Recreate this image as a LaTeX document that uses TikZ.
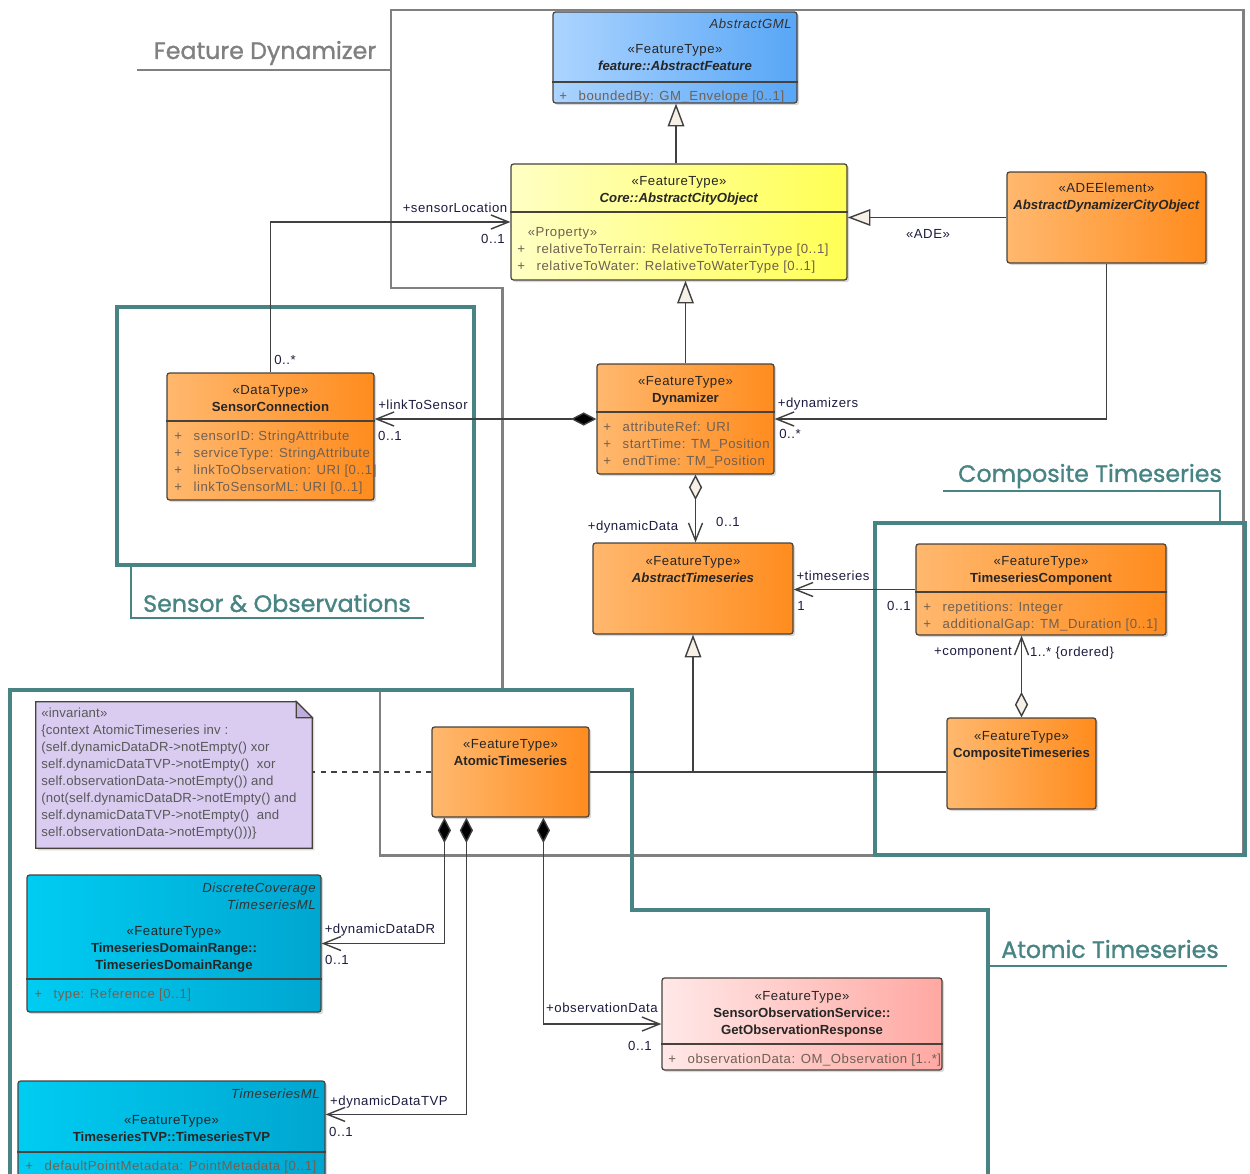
\documentclass[tikz,border=0pt]{standalone}
\usepackage{fontspec}
\setmainfont{Liberation Sans}[LetterSpace=4, BoldFeatures={LetterSpace=0}, BoldItalicFeatures={LetterSpace=0}]
\newfontfamily\notefont{Liberation Sans}[LetterSpace=1.2]
\newfontfamily\regionfont{Poppins}[FakeBold=1.2]
\usetikzlibrary{arrows.meta,shadows,fit,calc,positioning}

\definecolor{orL}{RGB}{255,184,110}
\definecolor{orR}{RGB}{255,140,30}
\definecolor{blL}{RGB}{172,212,255}
\definecolor{blR}{RGB}{88,166,246}
\definecolor{yeL}{RGB}{255,255,196}
\definecolor{yeR}{RGB}{255,255,84}
\definecolor{cyL}{RGB}{0,204,242}
\definecolor{cyR}{RGB}{0,166,208}
\definecolor{pkL}{RGB}{255,232,232}
\definecolor{pkR}{RGB}{255,168,162}
\definecolor{notefill}{RGB}{217,204,240}
\definecolor{notefold}{RGB}{190,172,222}
\definecolor{clsline}{RGB}{72,66,60}
\definecolor{attrtext}{RGB}{112,96,82}
\definecolor{rolenavy}{RGB}{28,28,64}
\definecolor{areagray}{RGB}{128,128,128}
\definecolor{areateal}{RGB}{72,132,132}
\definecolor{tipfill}{RGB}{246,240,230}

\newcommand\umlfont{\fontsize{7.5}{9.65}\selectfont}
\newcommand\plusmark{\makebox[11pt][l]{+}}

\tikzset{
  umlclass/.style={draw=clsline, line width=0.7pt, rounded corners=1.5pt, inner sep=0pt,
    drop shadow={shadow xshift=1.2pt, shadow yshift=-1.2pt, opacity=0.3}},
  orangeclass/.style={umlclass, left color=orL, right color=orR},
  blueclass/.style={umlclass, left color=blL, right color=blR},
  yellowclass/.style={umlclass, left color=yeL, right color=yeR},
  cyanclass/.style={umlclass, left color=cyL, right color=cyR},
  pinkclass/.style={umlclass, left color=pkL, right color=pkR},
  divider/.style={draw=clsline, line width=0.7pt},
  head/.style={font=\umlfont, align=center, anchor=north, inner sep=0pt, yshift=-1.1pt, text=black!85},
  attrs/.style={font=\umlfont, align=left, anchor=north west, inner sep=0pt, yshift=-1.1pt, text=attrtext},
  tagline/.style={font=\umlfont\itshape, align=right, anchor=north east, inner sep=0pt, yshift=-1.1pt, text=black!80},
  role/.style={font=\umlfont, text=rolenavy, inner sep=0pt, yshift=-1.1pt},
  assoc/.style={draw=black!75, line width=0.8pt},
  navig/.style={assoc, -{Straight Barb[length=10pt,width=8pt]}},
  gen/.style={assoc, -{Triangle[length=13pt,width=9.5pt,fill=tipfill]}},
  compnav/.style={assoc, {Diamond[length=14.5pt,width=7.5pt,fill=black]}-{Straight Barb[length=10pt,width=8pt]}},
  aggnav/.style={assoc, {Diamond[length=14.5pt,width=7.5pt,fill=tipfill]}-{Straight Barb[length=10pt,width=8pt]}},
  areatitle/.style={font=\regionfont\fontsize{13.5}{16}\selectfont, inner sep=0pt},
  grayarea/.style={draw=areagray, line width=1.7pt},
  tealarea/.style={draw=areateal, line width=2.2pt},
  arealine/.style={line width=0.8pt},
}

\begin{document}
\begin{tikzpicture}[x=0.02cm, y=-0.02cm]

\clip (0,0) rectangle (1250,1173);

% package outlines
\draw[grayarea] (391,10) -- (1243,10) -- (1243,855) -- (380,855) -- (380,690) -- (502,690) -- (502,288) -- (391,288) -- cycle;
\draw[areagray, arealine] (137,70) -- (391,70);
\node[areatitle, text=areagray] (fdtitle) at (265,53) {Feature Dynamizer};

\draw[tealarea] (117,307) rectangle (474,565);
\draw[areateal, arealine] (131,565) -- (131,618) -- (424,618);
\node[areatitle, text=areateal] (sotitle) at (277,603) {Sensor \& Observations};

\draw[tealarea] (875,523) rectangle (1245,855);
\draw[areateal, arealine] (1220,523) -- (1220,491) -- (943,491);
\node[areatitle, text=areateal] (cttitle) at (1090,476) {Composite Timeseries};

\draw[tealarea] (10,1185) -- (10,690) -- (632,690) -- (632,910) -- (988,910) -- (988,1185);
\draw[areateal, arealine] (988,966) -- (1227,966);
\node[areatitle, text=areateal] (attitle) at (1110,949) {Atomic Timeseries};

% classes
\node[blueclass, fit={(553,12) (797,103)}] (af) {};
\draw[divider] (af.west |- 0,82) -- (af.east |- 0,82);
\node[tagline] at (792,17) {AbstractGML};
\node[head] at (af.north |- 0,42) {«FeatureType»\\\textbf{\textit{feature::AbstractFeature}}};
\node[attrs] at (559,89) {\plusmark boundedBy: GM\_Envelope [0..1]};

\node[yellowclass, fit={(511,164) (847,280)}] (aco) {};
\draw[divider] (aco.west |- 0,212) -- (aco.east |- 0,212);
\node[head] at (aco.north |- 0,174) {«FeatureType»\\\textbf{\textit{Core::AbstractCityObject}}};
\node[attrs] at (517,225) {\hspace*{6pt}«Property»\\\plusmark relativeToTerrain: RelativeToTerrainType [0..1]\\\plusmark relativeToWater: RelativeToWaterType [0..1]};

\node[orangeclass, fit={(1007,172) (1206,263)}] (adeco) {};
\node[head] at (adeco.north |- 0,181) {«ADEElement»\\\textbf{\textit{AbstractDynamizerCityObject}}};

\node[orangeclass, fit={(167,373) (374,500)}] (sconn) {};
\draw[divider] (sconn.west |- 0,421) -- (sconn.east |- 0,421);
\node[head] at (sconn.north |- 0,383) {«DataType»\\\textbf{SensorConnection}};
\node[attrs] at (174,429) {\plusmark sensorID: StringAttribute\\\plusmark serviceType: StringAttribute\\\plusmark linkToObservation: URI [0..1]\\\plusmark linkToSensorML: URI [0..1]};

\node[orangeclass, fit={(597,364) (774,474)}] (dyn) {};
\draw[divider] (dyn.west |- 0,412) -- (dyn.east |- 0,412);
\node[head] at (dyn.north |- 0,374) {«FeatureType»\\\textbf{Dynamizer}};
\node[attrs] at (603,420) {\plusmark attributeRef: URI\\\plusmark startTime: TM\_Position\\\plusmark endTime: TM\_Position};

\node[orangeclass, fit={(593,543) (793,634)}] (absts) {};
\node[head] at (absts.north |- 0,554) {«FeatureType»\\\textbf{\textit{AbstractTimeseries}}};

\node[orangeclass, fit={(916,544) (1166,635)}] (tcomp) {};
\draw[divider] (tcomp.west |- 0,592) -- (tcomp.east |- 0,592);
\node[head] at (tcomp.north |- 0,554) {«FeatureType»\\\textbf{TimeseriesComponent}};
\node[attrs] at (923,600) {\plusmark repetitions: Integer\\\plusmark additionalGap: TM\_Duration [0..1]};

\node[orangeclass, fit={(947,718) (1096,809)}] (cts) {};
\node[head] at (cts.north |- 0,729) {«FeatureType»\\\textbf{CompositeTimeseries}};

\node[orangeclass, fit={(432,727) (589,817)}] (ats) {};
\node[head] at (ats.north |- 0,737) {«FeatureType»\\\textbf{AtomicTimeseries}};

% OCL note
\node[inner sep=0pt, fit={(36,702) (312,848)}] (inv) {};
\filldraw[fill=notefill, draw=clsline, line width=0.7pt, drop shadow={shadow xshift=1.2pt, shadow yshift=-1.2pt, opacity=0.3}]
  (inv.north west) -- ($(inv.north east)+(-16,0)$) -- ($(inv.north east)+(0,16)$) -- (inv.south east) -- (inv.south west) -- cycle;
\filldraw[fill=notefold, draw=clsline, line width=0.7pt] ($(inv.north east)+(-16,0)$) -- ($(inv.north east)+(-16,16)$) -- ($(inv.north east)+(0,16)$) -- cycle;
\node[attrs, font=\notefont\umlfont, text=black!65] at (41,706) {«invariant»\\{\{}context AtomicTimeseries inv :\\(self.dynamicDataDR->notEmpty() xor\\self.dynamicDataTVP->notEmpty()~ xor\\self.observationData->notEmpty()) and\\(not(self.dynamicDataDR->notEmpty() and\\self.dynamicDataTVP->notEmpty()~ and\\self.observationData->notEmpty()))\}};

\node[cyanclass, fit={(27,875) (321,1012)}] (tdr) {};
\draw[divider] (tdr.west |- 0,979) -- (tdr.east |- 0,979);
\node[tagline] at (316,881) {DiscreteCoverage\\TimeseriesML};
\node[head] at (tdr.north |- 0,924) {«FeatureType»\\\textbf{TimeseriesDomainRange::}\\\textbf{TimeseriesDomainRange}};
\node[attrs] at (34,987) {\plusmark type: Reference [0..1]};

\node[cyanclass, fit={(18,1081) (325,1185)}] (tvp) {};
\draw[divider] (tvp.west |- 0,1152) -- (tvp.east |- 0,1152);
\node[tagline] at (320,1087) {TimeseriesML};
\node[head] at (tvp.north |- 0,1113) {«FeatureType»\\\textbf{TimeseriesTVP::TimeseriesTVP}};
\node[attrs] at (25,1159) {\plusmark defaultPointMetadata: PointMetadata [0..1]};

\node[pinkclass, fit={(662,978) (942,1070)}] (gor) {};
\draw[divider] (gor.west |- 0,1044) -- (gor.east |- 0,1044);
\node[head] at (gor.north |- 0,989) {«FeatureType»\\\textbf{SensorObservationService::}\\\textbf{GetObservationResponse}};
\node[attrs] at (668,1052) {\plusmark observationData: OM\_Observation [1..*]};

% generalisations
\draw[gen] (aco.north -| 676,0) -- (af.south -| 676,0);
\draw[gen] (dyn.north) -- (dyn.north |- aco.south);
\draw[gen] (adeco.west) -- (adeco.west -| aco.east);
\node[role] at (928,232) {«ADE»};
\draw[assoc] (ats.east) -- (cts.west |- ats.east);
\draw[gen] (absts.south |- ats.east) -- (absts.south);

% associations
\draw[navig] (adeco.south) |- (dyn.east);
\node[role] at (818,402) {+dynamizers};
\node[role] at (790,432) {0..*};

\draw[navig] (sconn.north) |- (aco.west);
\node[role] at (455,206) {+sensorLocation};
\node[role] at (493,237) {0..1};
\node[role] at (285,358) {0..*};

\draw[compnav] (dyn.west) -- (dyn.west -| sconn.east);
\node[role] at (423,403) {+linkToSensor};
\node[role] at (390,434) {0..1};

\coordinate (ddsrc) at ($(dyn.south)+(10,0)$);
\draw[aggnav] (ddsrc) -- (ddsrc |- absts.north);
\node[role] at (633,525) {+dynamicData};
\node[role] at (728,520) {0..1};

\draw[navig] (tcomp.west) -- (tcomp.west -| absts.east);
\node[role] at (833,574) {+timeseries};
\node[role] at (801,604) {1};
\node[role] at (899,604) {0..1};

\draw[aggnav] (cts.north) -- (cts.north |- tcomp.south);
\node[role] at (973,651) {+component};
\node[role] at (1072,651) {1..* \{ordered\}};

\draw[assoc, dashed] (ats.west) -- (ats.west -| inv.east);

\coordinate (drsrc) at ($(ats.south west)+(13,0)$);
\draw[compnav] (drsrc) |- (tdr.east);
\node[role] at (380,928) {+dynamicDataDR};
\node[role] at (337,958) {0..1};

\coordinate (tvpsrc) at ($(ats.south west)+(35,0)$);
\coordinate (tvpin) at ($(tvp.north east)+(0,34)$);
\draw[compnav] (tvpsrc) |- (tvpin);
\node[role] at (389,1100) {+dynamicDataTVP};
\node[role] at (341,1130) {0..1};

\coordinate (obsrc) at ($(ats.south west)+(112,0)$);
\draw[compnav] (obsrc) |- (gor.west);
\node[role] at (602,1006) {+observationData};
\node[role] at (640,1044) {0..1};

\end{tikzpicture}
\end{document}
